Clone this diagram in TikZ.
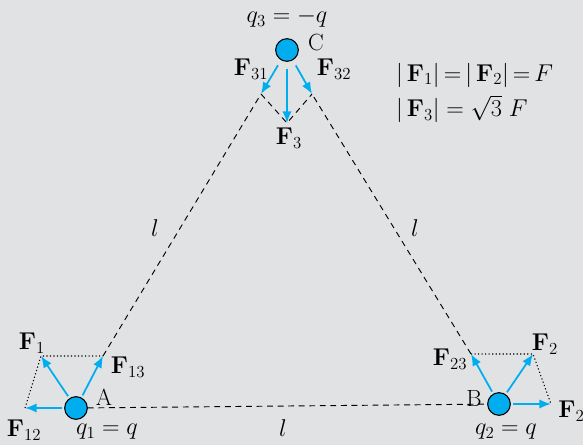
\documentclass[tikz,border=0pt]{standalone}
\usetikzlibrary{arrows.meta}
\definecolor{chargeblue}{RGB}{0,174,239}
\definecolor{paper}{RGB}{225,226,228}
\begin{document}
\begin{tikzpicture}[
        x=0.03cm, y=-0.03cm,
        font=\fontsize{20}{24}\selectfont,
        charge/.style={circle, draw=black, line width=0.9pt, fill=chargeblue,
            minimum size=0.68cm, inner sep=0pt},
        force/.style={chargeblue, line width=1.5pt, shorten <=2pt,
            -{Latex[length=10pt,width=8pt]}},
        side/.style={line width=0.8pt, dash pattern=on 5pt off 4pt},
        helper/.style={line width=0.9pt, dash pattern=on 1pt off 2pt}
    ]
        % Fondo
        \fill[paper] (0,0) rectangle (583,445);
        \useasboundingbox (0,0) rectangle (583,445);

        % Puntas de las fuerzas
        \coordinate (f12) at (25,408);
        \coordinate (f13) at (103,356);
        \coordinate (f1) at (41,356);
        \coordinate (f21) at (551,404);
        \coordinate (f23) at (471,354);
        \coordinate (f2) at (533,354);
        \coordinate (f31) at (261,94);
        \coordinate (f32) at (312,94);
        \coordinate (f3) at (287,123);

        % Cargas
        \node[charge] (qA) at (76,408) {};
        \node[charge] (qB) at (499,404) {};
        \node[charge] (qC) at (287,50) {};

        % Lados del triangulo
        \draw[side] (f13) -- (f31);
        \draw[side] (qA) -- (qB);
        \draw[side] (f23) -- (f32);
        \draw[side] (f31) -- (f3) -- (f32);

        % Paralelogramos
        \draw[helper] (f12) -- (f1) -- (f13);
        \draw[helper] (f23) -- (f2) -- (f21);

        % Fuerzas
        \draw[force] (qA) -- (f12);
        \draw[force] (qA) -- (f13);
        \draw[force] (qA) -- (f1);
        \draw[force] (qB) -- (f21);
        \draw[force] (qB) -- (f23);
        \draw[force] (qB) -- (f2);
        \draw[force, shorten <=5pt] (qC) -- (f31);
        \draw[force, shorten <=5pt] (qC) -- (f32);
        \draw[force, shorten <=6pt] (qC) -- (f3);

        % Etiquetas
        \node (lA) at (104,397) {A};
        \node (lB) at (474,398) {B};
        \node (lC) at (316,42) {C};
        \node (lq1) at (107,432) {$q_1 = q$};
        \node (lq2) at (506,432) {$q_2 = q$};
        \node (lq3) at (287,18) {$q_3 = -q$};
        \node (lf1) at (32,343) {$\mathbf{F}_1$};
        \node (lf13) at (128,367) {$\mathbf{F}_{13}$};
        \node (lf12) at (24,430) {$\mathbf{F}_{12}$};
        \node (lf23) at (450,359) {$\mathbf{F}_{23}$};
        \node (lf2) at (545,344) {$\mathbf{F}_2$};
        \node[anchor=west, inner sep=1pt] (lf21) at (557,411) {$\mathbf{F}_{21}$};
        \node (lf31) at (251,69) {$\mathbf{F}_{31}$};
        \node (lf32) at (334,69) {$\mathbf{F}_{32}$};
        \node (lf3) at (289,138) {$\mathbf{F}_3$};
        \node (lAC) at (155,228) {$l$};
        \node (lBC) at (415,228) {$l$};
        \node (lAB) at (283,428) {$l$};

        % Leyenda
        \node[anchor=west] (eq1) at (392,75)
            {$\vert\,\mathbf{F}_1\vert\,{=}\,\vert\,\mathbf{F}_2\vert\,{=}\,F$};
        \node[anchor=west] (eq2) at (392,109)
            {$\vert\,\mathbf{F}_3\vert\;{=}\;\sqrt{3}\;F$};

    \end{tikzpicture}
\end{document}
